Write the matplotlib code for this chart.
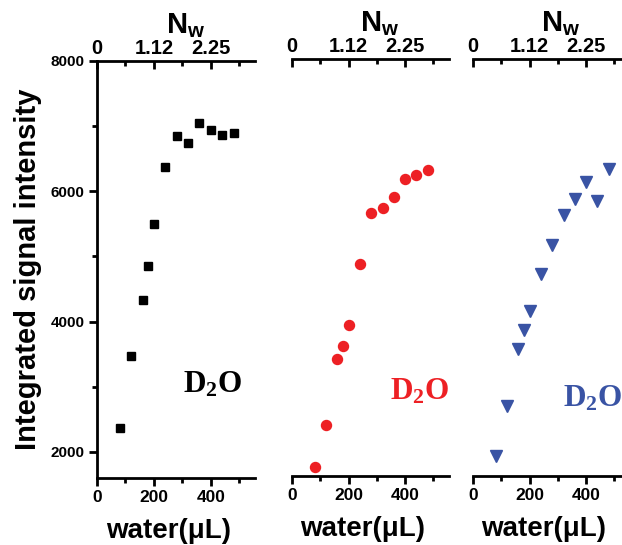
"""Integrated signal intensity vs water volume, three D2O panels."""
import matplotlib
matplotlib.use("Agg")
import matplotlib.pyplot as plt
from matplotlib.ticker import FixedLocator

plt.rcParams["font.family"] = ["Liberation Sans", "DejaVu Sans"]
plt.rcParams["font.weight"] = "bold"
plt.rcParams["axes.labelweight"] = "bold"
plt.rcParams["mathtext.fontset"] = "custom"
plt.rcParams["mathtext.bf"] = "Liberation Serif:bold"
plt.rcParams["mathtext.sf"] = "Liberation Sans:bold"
plt.rcParams["mathtext.rm"] = "Liberation Sans:bold"

# dados
water = [80, 120, 160, 180, 200, 240, 280, 320, 360, 400, 440, 480]
black_sq = [2370, 3470, 4330, 4860, 5500, 6380, 6850, 6745, 7050, 6945, 6860, 6890]
red_circ = [1745, 2380, 3390, 3590, 3915, 4855, 5640, 5710, 5885, 6155, 6220, 6300]
blue_tri = [1900, 2680, 3545, 3835, 4130, 4700, 5145, 5600, 5855, 6115, 5825, 6310]

nw_ticks = [0, 200, 400]
nw_labels = ["0", "1.12", "2.25"]
y_ticks = [2000, 4000, 6000, 8000]

series = [(black_sq, "s", "black", 6.0),
          (red_circ, "o", "#ed2024", 7.2),
          (blue_tri, "v", "#3953a4", 8.0)]
label_xy = [(302, 2905), (346, 2767), (318, 2660)]   # posicao do rotulo D2O

W, H = 622, 545
boxes = [(97, 478, 255, 61), (292, 476, 449, 59), (473, 476, 630, 59)]  # px

fig = plt.figure(figsize=(W / 100, H / 100), dpi=100)
LW = 2.0

for i, ((l, b, r, t), (vals, mk, col, ms), (tx, ty)) in enumerate(
        zip(boxes, series, label_xy)):
    ax = fig.add_axes([l / W, (H - b) / H, (r - l) / W, (b - t) / H])
    ax.plot(water, vals, ls="none", marker=mk, color=col, ms=ms,
            clip_on=False)
    ax.set_xlim(0, 555)
    ax.set_ylim(1600, 8000)
    ax.text(tx, ty, r"$\mathbf{D_2O}$", color=col, fontsize=22.5,
            ha="left", va="baseline")

    for s in ["top", "right"]:
        ax.spines[s].set_visible(False)
    ax.spines["bottom"].set_linewidth(LW)
    ax.set_xticks([0, 200, 400])
    ax.xaxis.set_minor_locator(FixedLocator([100, 300, 500]))
    ax.tick_params(axis="x", which="major", direction="out", length=6,
                   width=LW, labelsize=12.5, pad=3)
    ax.tick_params(axis="x", which="minor", direction="out", length=3.5,
                   width=LW)
    for lab in ax.get_xticklabels():
        lab.set_fontweight("bold")
    ax.set_xlabel("water(μL)", fontsize=20, fontweight="bold", labelpad=9,
                  x=0.45)

    if i == 0:
        ax.spines["left"].set_linewidth(LW)
        ax.set_yticks(y_ticks)
        ax.yaxis.set_minor_locator(FixedLocator([3000, 5000, 7000]))
        ax.tick_params(axis="y", which="major", direction="out", length=6,
                       width=LW, labelsize=11, pad=3)
        ax.tick_params(axis="y", which="minor", direction="out", length=3.5,
                       width=LW)
        for lab in ax.get_yticklabels():
            lab.set_fontweight("bold")
        ax.set_ylabel("Integrated signal intensity", fontsize=21,
                      fontweight="bold", labelpad=6)
    else:
        ax.spines["left"].set_visible(False)
        ax.set_yticks([])

    top = ax.twiny()
    top.set_xlim(ax.get_xlim())
    for s in ["bottom", "left", "right"]:
        top.spines[s].set_visible(False)
    top.spines["top"].set_linewidth(LW)
    top.set_xticks(nw_ticks, nw_labels, fontweight="bold")
    top.xaxis.set_minor_locator(FixedLocator([100, 300, 500]))
    top.tick_params(axis="x", which="major", direction="in", length=6,
                    width=LW, labelsize=14.5, pad=2)
    top.tick_params(axis="x", which="minor", direction="in", length=3.5,
                    width=LW)
    top.set_xlabel(r"$\mathsf{N_w}$", fontsize=21, labelpad=4, x=0.56)

fig.savefig("out.png", dpi=100)
print("salvo: out.png")
